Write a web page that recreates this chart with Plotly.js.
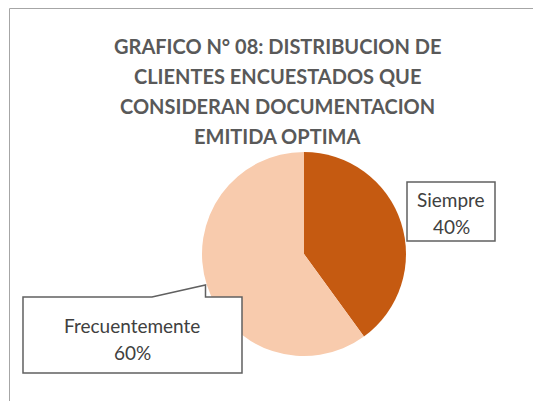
<!DOCTYPE html>
<html>
<head>
<meta charset="utf-8">
<script src="https://cdn.plot.ly/plotly-3.0.1.min.js"></script>
<style>html,body{margin:0;padding:0;background:#fff;}#chart{width:533px;height:401px;}</style>
</head>
<body>
<div id="chart"></div>
<script>
const categories = ["Siempre", "Frecuentemente"];
const values = [40, 60];
const colors = ["#C55A11", "#F8CBAD"];
const titleLines = ["GRAFICO N° 08: DISTRIBUCION DE", "CLIENTES ENCUESTADOS QUE", "CONSIDERAN DOCUMENTACION", "EMITIDA OPTIMA"];

const W = 533, H = 401;
const px = x => x / W;
const py = y => 1 - y / H;

const total = values.reduce((a, b) => a + b, 0);
const pct = values.map(v => Math.round(v / total * 100) + "%");

// pie geometry (pixels)
const cx = 304, cy = 254, r = 102;

const trace = {
  type: "pie",
  labels: categories,
  values: values,
  sort: false,
  direction: "clockwise",
  rotation: 0,
  textinfo: "none",
  hoverinfo: "label+percent",
  marker: { colors: colors, line: { width: 0 } },
  domain: { x: [px(cx - r), px(cx + r)], y: [py(cy + r), py(cy - r)] },
  showlegend: false
};

const titleFont = { family: "Lato, 'Open Sans', sans-serif", size: 20, color: "#595959", weight: "bold" };
const lblFont = { family: "Lato, 'Open Sans', sans-serif", size: 19, color: "#404040" };

const annotations = [];
const titleY = [46, 76, 106, 136];
titleLines.forEach((t, i) => annotations.push({
  text: "<b>" + t + "</b>", xref: "paper", yref: "paper", x: px(277), y: py(titleY[i]),
  xanchor: "center", yanchor: "middle", showarrow: false, font: titleFont
}));

// label boxes: [cx, line1 y, line2 y]
const boxText = [[451, 199, 226], [132, 325, 352]];
categories.forEach((c, i) => {
  annotations.push({ text: c, xref: "paper", yref: "paper", x: px(boxText[i][0]), y: py(boxText[i][1]),
    xanchor: "center", yanchor: "middle", showarrow: false, font: lblFont });
  annotations.push({ text: pct[i], xref: "paper", yref: "paper", x: px(boxText[i][0]), y: py(boxText[i][2]),
    xanchor: "center", yanchor: "middle", showarrow: false, font: lblFont });
});

function pathFrom(pts) {
  return "M" + pts.map(p => px(p[0]).toFixed(5) + "," + py(p[1]).toFixed(5)).join(" L") + " Z";
}

const boxLine = { color: "#606060", width: 1.5 };
const shapes = [
  // chart frame (top and left only visible)
  { type: "line", xref: "paper", yref: "paper", x0: px(9.5), x1: px(533), y0: py(8.5), y1: py(8.5), line: { color: "#A6A6A6", width: 1 } },
  { type: "line", xref: "paper", yref: "paper", x0: px(9.5), x1: px(9.5), y0: py(8.5), y1: py(401), line: { color: "#A6A6A6", width: 1 } },
  // Siempre box
  { type: "rect", xref: "paper", yref: "paper", x0: px(407), x1: px(495), y0: py(182), y1: py(241), line: boxLine, fillcolor: "#FFFFFF" },
  // Frecuentemente callout
  { type: "path", xref: "paper", yref: "paper",
    path: pathFrom([[23, 297], [152, 297], [205.5, 285], [205.5, 297], [242, 297], [242, 373], [23, 373]]),
    line: boxLine, fillcolor: "#FFFFFF" }
];

const layout = {
  width: W, height: H,
  margin: { l: 0, r: 0, t: 0, b: 0 },
  paper_bgcolor: "#FFFFFF",
  plot_bgcolor: "#FFFFFF",
  showlegend: false,
  shapes: shapes,
  annotations: annotations
};

Plotly.newPlot("chart", [trace], layout, { staticPlot: true, displayModeBar: false });
</script>
</body>
</html>
